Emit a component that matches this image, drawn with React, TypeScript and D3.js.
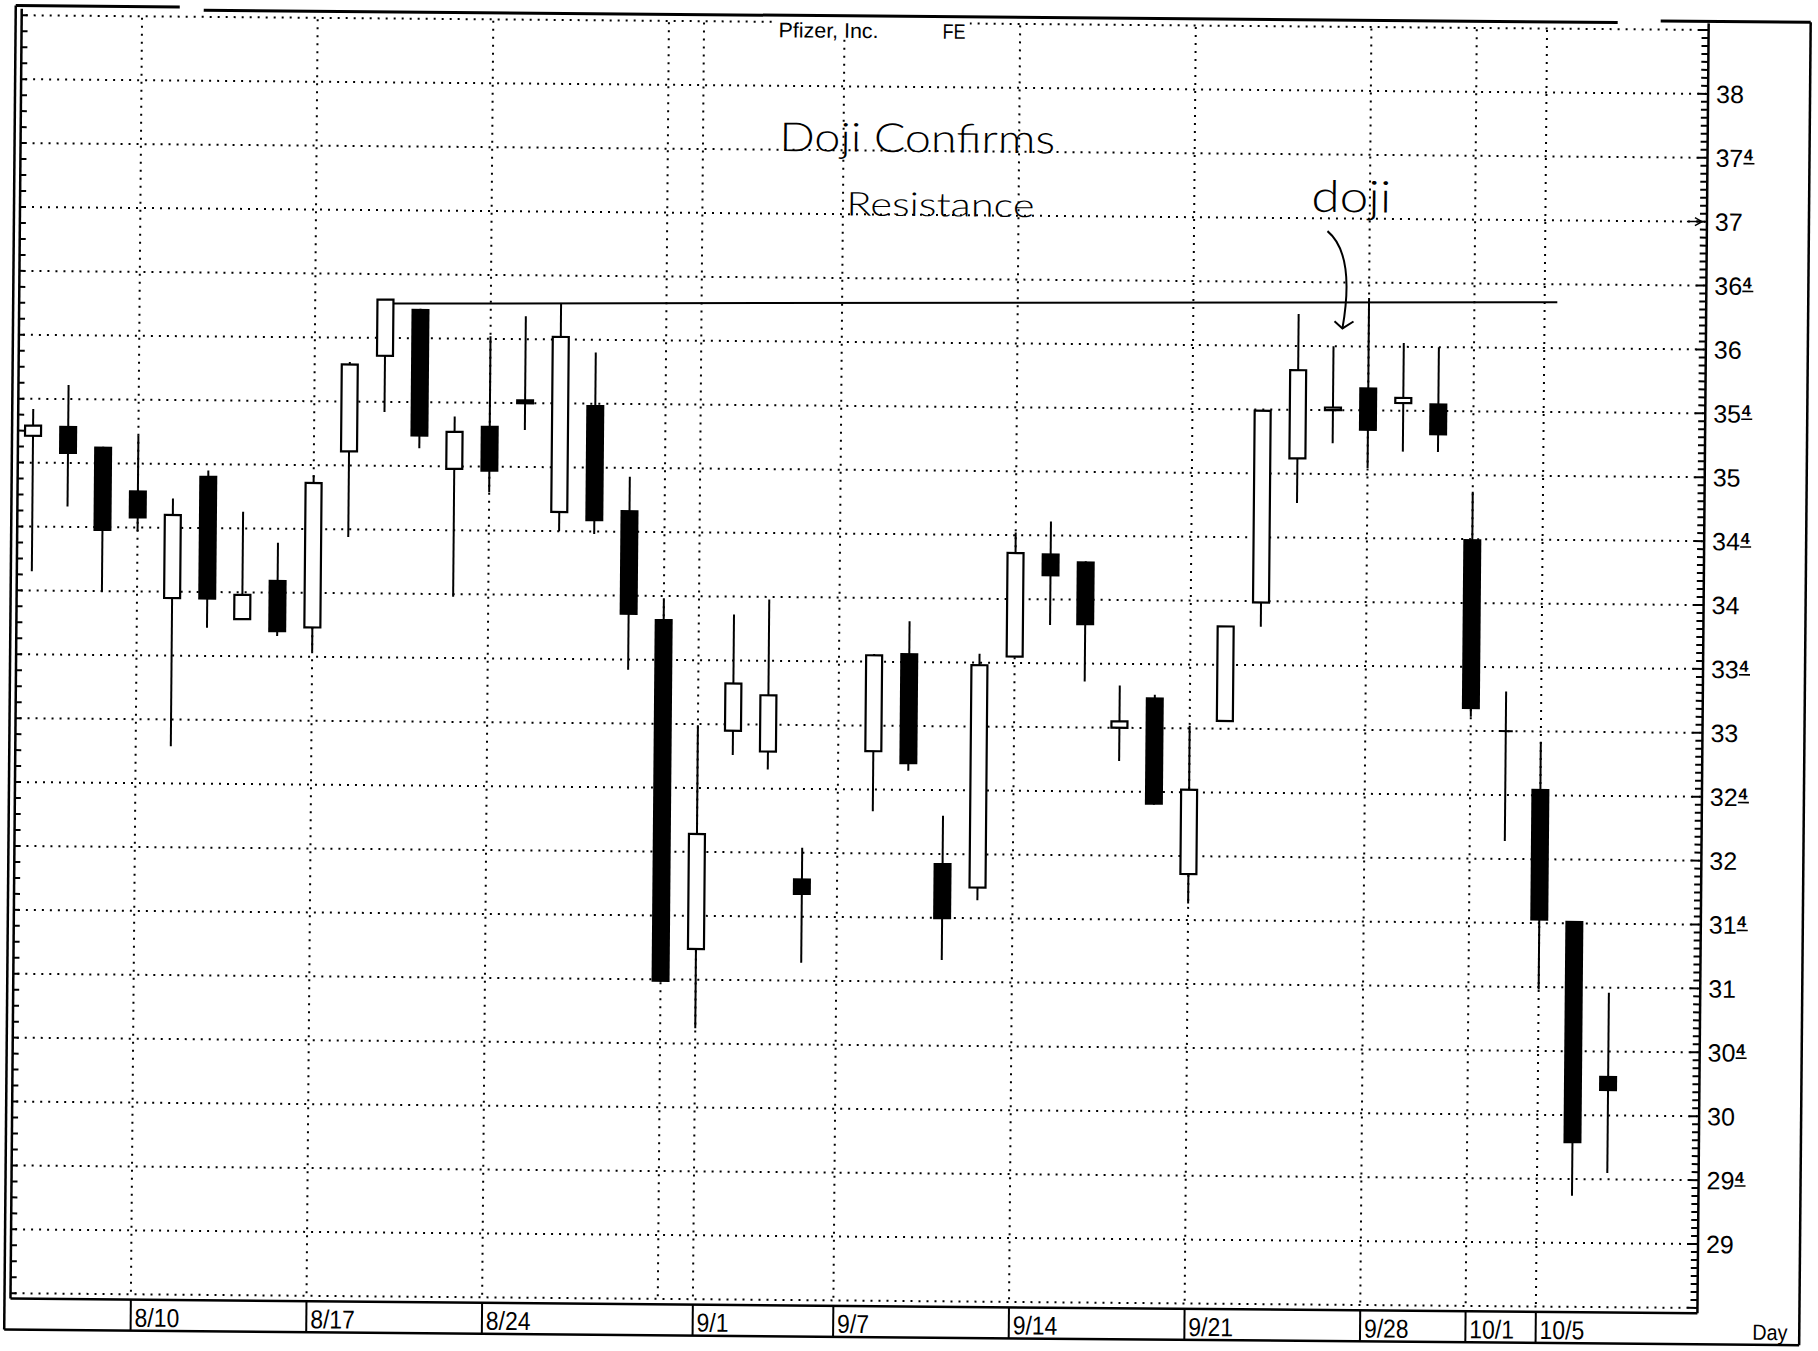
import React from 'react';
import * as d3 from 'd3';

// ---- data (trading-day slot index, 0 = 8/5) ----
const dayIndex = [0, 1, 2, 3, 4, 5, 6, 7, 8, 9, 10, 11, 12, 13, 14, 15, 16, 17, 18, 19, 20, 21, 22, 24, 25, 26, 27, 28, 29, 30, 31, 32, 33, 34, 35, 36, 37, 38, 39, 40, 41, 42, 43, 44, 45];
const openP = [35.21, 35.29, 35.13, 34.79, 33.95, 34.91, 33.79, 34.10, 33.73, 35.11, 35.86, 36.23, 34.98, 35.32, 35.53, 34.65, 35.49, 34.67, 33.82, 31.24, 32.95, 32.79, 31.80, 32.80, 33.57, 31.93, 31.74, 33.55, 34.36, 34.30, 33.00, 33.24, 31.86, 33.06, 33.99, 35.12, 35.50, 35.68, 35.56, 35.56, 34.50, 33.00, 32.55, 31.52, 30.31];
const highP = [35.42, 35.61, 35.13, 35.22, 34.73, 34.95, 34.63, 34.39, 34.92, 35.81, 36.30, 36.23, 35.39, 36.02, 36.18, 36.28, 35.90, 34.93, 33.97, 32.99, 33.86, 33.98, 32.04, 33.56, 33.82, 32.30, 33.57, 34.52, 34.61, 34.30, 33.33, 33.26, 33.02, 33.80, 35.49, 36.25, 36.00, 36.38, 36.03, 36.00, 34.87, 33.31, 32.92, 31.52, 30.96];
const lowP = [34.15, 34.66, 33.99, 34.47, 32.79, 33.72, 33.79, 33.66, 33.54, 34.44, 35.42, 35.14, 33.98, 34.80, 35.29, 34.50, 34.48, 33.42, 30.98, 30.62, 32.76, 32.65, 31.14, 32.33, 32.65, 31.17, 31.64, 33.55, 33.80, 33.36, 32.74, 32.40, 31.63, 33.06, 33.80, 34.77, 35.24, 35.05, 35.18, 35.18, 33.11, 32.14, 30.98, 29.37, 29.55];
const closeP = [35.29, 35.07, 34.47, 34.57, 34.60, 33.94, 33.98, 33.69, 34.86, 35.79, 36.30, 35.23, 35.27, 34.96, 35.49, 36.02, 34.58, 33.85, 30.98, 32.14, 33.32, 33.23, 31.67, 33.55, 32.70, 31.49, 33.48, 34.36, 34.18, 33.80, 33.05, 32.40, 32.52, 33.80, 35.49, 35.81, 35.52, 35.34, 35.60, 35.31, 33.17, 33.00, 31.52, 29.78, 30.19];

const gridDays = [3, 8, 13, 18, 19, 23, 28, 33, 38, 41, 43];
const dateLabelDays = [3, 8, 13, 19, 23, 28, 33, 38, 41, 43];
const dateLabels = ['8/10', '8/17', '8/24', '9/1', '9/7', '9/14', '9/21', '9/28', '10/1', '10/5'];
const priceLabelValues = [29, 29.5, 30, 30.5, 31, 31.5, 32, 32.5, 33, 33.5, 34, 34.5, 35, 35.5, 36, 36.5, 37, 37.5, 38];
const gridPrices = [28.5, 29, 29.5, 30, 30.5, 31, 31.5, 32, 32.5, 33, 33.5, 34, 34.5, 35, 35.5, 36, 36.5, 37, 37.5, 38, 38.5];

// annotations (day slot, price)
const resistanceDays = [10.24, 43.36];
const resistancePrices = [36.27, 36.36];
const arrowDays = [36.8, 37.6, 37.25];
const arrowPrices = [36.9, 36.72, 36.14];

export default function App() {
  const W = 1818, H = 1351;
  const plotLeft = 16, plotRight = 1703, plotTop = 16, plotBottom = 1306, stripBottom = 1337;
  const frameLeft = 10, frameRight = 1805;
  const x = d3.scaleLinear().domain([-0.427, 47.6]).range([plotLeft, plotRight]);
  const y = d3.scaleLinear().domain([38, 29]).range([86.5, 1236.7]);
  const bw = 18;

  const rightTicks = d3.range(28.5, 38.5001, 1 / 16);
  const leftTicks = d3.range(28.5, 38.5001, 1 / 8);

  const arrowPath = d3.path();
  arrowPath.moveTo(x(arrowDays[0]), y(arrowPrices[0]));
  arrowPath.quadraticCurveTo(x(arrowDays[1]), y(arrowPrices[1]), x(arrowDays[2]), y(arrowPrices[2]));
  const tipX = x(arrowDays[2]), tipY = y(arrowPrices[2]);

  const handFont = "Lato, 'DejaVu Sans', sans-serif";
  const axisFont = "'Liberation Sans', Arial, sans-serif";

  return (
    <svg width={W} height={H} style={{ position: 'absolute', left: 0, top: 0, display: 'block' }}>
      <rect x={0} y={0} width={W} height={H} fill="#fff" />
      <g transform="rotate(0.5 860 670)">
        {/* horizontal dotted grid */}
        {gridPrices.map((p) => (
          <line key={'h' + p} x1={plotLeft + 4} x2={plotRight - 2} y1={y(p)} y2={y(p)}
            stroke="#000" strokeWidth={2} strokeDasharray="2 6" />
        ))}
        {/* vertical dotted grid */}
        {gridDays.map((d) => (
          <line key={'v' + d} x1={x(d)} x2={x(d)} y1={plotTop + 8} y2={plotBottom - 2}
            stroke="#000" strokeWidth={2} strokeDasharray="2 6" />
        ))}
        {/* price marker arrow at 37 */}
        <path d={`M${plotRight - 20},${y(37)} L${plotRight - 6},${y(37)} M${plotRight - 12},${y(37) - 4} L${plotRight - 5},${y(37)} L${plotRight - 12},${y(37) + 4}`}
          stroke="#000" strokeWidth={1.5} fill="none" />

        {/* title */}
        <rect x={768} y={14} width={196} height={24} fill="#fff" />
        <text x={773} y={38} fontFamily={axisFont} fontSize={21} textLength={100} lengthAdjust="spacingAndGlyphs">Pfizer, Inc.</text>
        <text x={937} y={38} fontFamily={axisFont} fontSize={21} textLength={23} lengthAdjust="spacingAndGlyphs">FE</text>

        {/* resistance line */}
        <line x1={x(resistanceDays[0])} y1={y(resistancePrices[0])} x2={x(resistanceDays[1])} y2={y(resistancePrices[1])}
          stroke="#000" strokeWidth={2} />

        {/* candles */}
        {dayIndex.map((d, i) => {
          const o = openP[i], c = closeP[i], hi = highP[i], lo = lowP[i];
          const cx = x(d);
          const top = y(Math.max(o, c)), bot = y(Math.min(o, c));
          const up = c > o;
          const flat = o === c;
          return (
            <g key={'c' + i}>
              <line x1={cx} x2={cx} y1={y(hi)} y2={y(lo)} stroke="#000" strokeWidth={2} />
              {flat ? (
                <line x1={cx - bw / 2 + 2} x2={cx + bw / 2 - 2} y1={top} y2={top} stroke="#000" strokeWidth={2} />
              ) : up ? (
                <rect x={cx - bw / 2 + 1} y={top} width={bw - 2} height={Math.max(bot - top, 2)} fill="#fff" stroke="#000" strokeWidth={2.2} />
              ) : (
                <rect x={cx - bw / 2} y={top} width={bw} height={Math.max(bot - top, 3)} fill="#000" />
              )}
            </g>
          );
        })}

        {/* handwritten annotations */}
        <text x={x(21.17)} y={y(37.49)} fontFamily={handFont} fontWeight={300} fontSize={40} textLength={276} lengthAdjust="spacingAndGlyphs">Doji  Confirms</text>
        <text x={x(23.1)} y={y(36.99)} fontFamily={handFont} fontWeight={300} fontSize={33} textLength={188} lengthAdjust="spacingAndGlyphs">Resistance</text>
        <text x={x(36.33)} y={y(37.05)} fontFamily={handFont} fontWeight={300} fontSize={44} textLength={80} lengthAdjust="spacingAndGlyphs">doji</text>
        <path d={arrowPath.toString()} stroke="#000" strokeWidth={2} fill="none" />
        <path d={`M${tipX - 8},${tipY - 7} L${tipX},${tipY} L${tipX + 11},${tipY - 7}`} stroke="#000" strokeWidth={2} fill="none" />

        {/* axes */}
        <line x1={plotLeft} x2={plotLeft} y1={plotTop} y2={plotBottom} stroke="#000" strokeWidth={2.5} />
        <line x1={plotRight} x2={plotRight} y1={plotTop} y2={plotBottom} stroke="#000" strokeWidth={2.5} />
        <line x1={plotLeft} x2={plotRight} y1={plotBottom} y2={plotBottom} stroke="#000" strokeWidth={2.5} />
        {leftTicks.map((p) => (
          <line key={'lt' + p} x1={plotLeft} x2={plotLeft + 6} y1={y(p)} y2={y(p)} stroke="#000" strokeWidth={2} />
        ))}
        {rightTicks.map((p, k) => (
          <line key={'rt' + k} x1={plotRight - (k % 8 === 0 ? 10 : 7)} x2={plotRight} y1={y(p)} y2={y(p)} stroke="#000" strokeWidth={2} />
        ))}

        {/* right axis labels */}
        {priceLabelValues.map((p) => {
          const whole = Math.floor(p);
          const half = p !== whole;
          const ly = y(p) + 9;
          const lx = plotRight + 8;
          return (
            <g key={'pl' + p}>
              <text x={lx} y={ly} fontFamily={axisFont} fontSize={25}>{String(whole)}</text>
              {half && (
                <>
                  <text x={lx + 28.5} y={ly - 6.5} fontFamily={axisFont} fontSize={16} fontWeight={700}>4</text>
                  <line x1={lx + 28} x2={lx + 39} y1={ly - 3.5} y2={ly - 3.5} stroke="#000" strokeWidth={1.6} />
                </>
              )}
            </g>
          );
        })}

        {/* date strip */}
        {dateLabelDays.map((d, i) => (
          <g key={'dl' + d}>
            <line x1={x(d)} x2={x(d)} y1={plotBottom} y2={stripBottom} stroke="#000" strokeWidth={2} />
            <text transform={`translate(${x(d) + 4},${plotBottom + 27}) scale(0.88,1)`} fontFamily={axisFont} fontSize={26}>{dateLabels[i]}</text>
          </g>
        ))}
        <text transform={`translate(${1758},${1332}) scale(0.9,1)`} fontFamily={axisFont} fontSize={22}>Day</text>

        {/* outer frame */}
        <line x1={frameLeft} x2={frameLeft} y1={13} y2={stripBottom} stroke="#000" strokeWidth={2.5} />
        <line x1={frameRight} x2={frameRight} y1={14} y2={stripBottom} stroke="#000" strokeWidth={2.5} />
        <line x1={frameLeft} x2={frameRight} y1={stripBottom} y2={stripBottom} stroke="#000" strokeWidth={2.5} />
        <line x1={frameLeft} x2={174} y1={13} y2={13} stroke="#000" strokeWidth={3} />
        <line x1={198} x2={1612} y1={16} y2={16} stroke="#000" strokeWidth={3} />
        <line x1={1655} x2={frameRight} y1={14} y2={14} stroke="#000" strokeWidth={3} />
      </g>
    </svg>
  );
}
